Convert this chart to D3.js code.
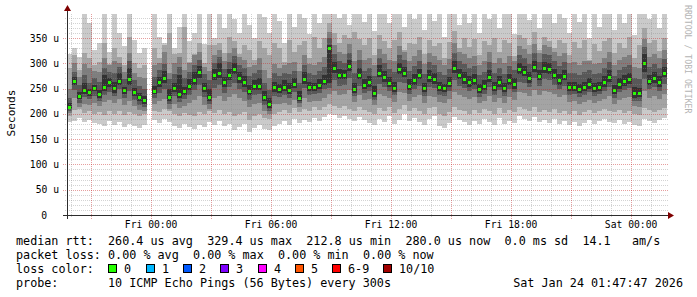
<!DOCTYPE html>
<html><head><meta charset="utf-8">
<script src="https://cdn.jsdelivr.net/npm/d3@7"></script>
<style>
html,body{margin:0;padding:0;background:#fff;}
svg{display:block;}
text{font-family:"DejaVu Sans Mono",monospace;}
</style>
</head><body>
<svg id="chart" width="697" height="297"></svg>
<script>
// ---- time axis ----
const startTime = Date.UTC(2026, 0, 22, 19, 47, 47);
const endTime = Date.UTC(2026, 0, 24, 1, 47, 47);
const stepMinutes = 15;

// ---- median rtt (microseconds) per 15-min step; null = no data ----
const median = [213,265,235,246,242,250,238,252,262,250,265,246,268,243,232,226,null,
245,262,270,232,250,238,244,255,266,282,250,232,276,
280,262,276,288,270,262,245,255,255,232,
218,252,248,252,246,258,231,268,252,252,
256,265,329,290,276,276,294,248,276,256,
262,241,280,272,260,250,288,280,254,266,
276,250,272,267,252,250,260,290,276,268,
262,266,248,254,272,252,262,250,266,258,
288,282,270,292,274,290,288,276,266,274,
252,252,248,252,258,250,252,262,272,246,
258,264,268,240,241,300,265,270,262,280];

// ---- sorted ping values (smoke), ping1 = fastest ... ping10 = slowest ----
const ping1 = [184,186,192,184,188,182,180,176,186,178,184,174,180,176,172,178,null,
188,182,190,184,176,172,180,174,170,178,174,184,178,
186,176,180,168,174,180,164,172,178,170,
168,176,180,186,178,190,182,188,184,192,
186,194,200,198,192,196,190,186,194,188,
182,178,190,184,196,180,188,200,186,192,
184,178,190,196,176,172,182,194,188,184,
178,186,180,190,184,178,192,180,186,182,
196,190,186,194,184,188,182,190,180,186,
178,184,176,182,188,180,186,190,184,182,
188,180,184,178,176,190,186,182,188,192];
const ping2 = [196,208,210,202,206,200,204,198,206,200,206,198,204,200,196,200,null,
206,204,210,206,200,196,202,198,196,204,200,206,202,
208,200,204,196,200,204,188,196,200,192,
190,200,204,208,202,212,204,210,206,214,
208,214,220,216,212,216,210,206,214,208,
204,200,212,206,214,202,210,218,206,212,
206,200,212,214,200,196,204,214,208,206,
200,208,202,210,206,200,212,202,208,204,
214,210,206,214,204,208,204,210,202,206,
200,206,198,204,208,202,206,210,206,204,
208,202,206,200,198,212,208,204,208,212];
const ping3 = [202,232,214,220,218,222,216,224,228,222,230,218,226,216,208,206,null,
220,226,230,210,220,212,216,222,228,236,218,210,232,
236,226,234,240,232,226,214,220,222,206,
200,220,220,222,218,228,214,232,224,226,
226,232,240,246,238,240,248,224,238,228,
230,218,240,236,232,224,244,242,226,234,
238,222,236,234,224,222,230,244,238,234,
230,234,222,226,236,224,232,222,234,228,
244,242,236,248,238,246,244,240,234,238,
224,226,220,224,228,222,226,230,236,220,
228,232,234,216,214,246,232,236,230,240];
const ping4 = [206,248,222,234,230,236,226,238,244,236,250,232,246,228,218,214,null,
232,242,250,220,236,224,230,238,248,258,234,220,252,
258,242,254,262,250,244,228,238,240,218,
206,236,234,238,232,244,222,252,238,240,
242,250,252,266,256,258,270,236,256,242,
246,228,260,254,246,238,264,262,240,250,
256,236,254,252,238,236,246,266,256,252,
246,250,234,240,254,238,248,236,250,244,
264,262,254,270,256,268,266,258,250,256,
238,240,234,238,244,236,240,246,254,232,
244,248,252,226,226,268,250,254,246,260];
const ping5 = [210,258,230,240,236,246,232,246,254,242,258,240,258,236,226,220,null,
240,254,262,226,244,232,238,248,258,270,244,226,266,
270,254,266,278,262,254,238,248,248,226,
212,244,242,246,240,252,226,260,246,246,
250,258,262,280,268,268,284,242,268,250,
254,234,272,264,254,244,278,272,248,258,
268,244,264,260,246,244,254,280,268,260,
254,258,242,248,264,246,254,244,258,250,
278,274,262,282,266,280,278,268,258,266,
246,246,242,246,250,244,246,254,264,240,
250,256,260,232,234,282,258,262,254,272];
const ping6 = [222,272,244,262,250,258,248,276,270,264,280,254,290,252,242,236,null,
256,272,284,250,262,276,254,268,282,294,262,250,288,
300,272,288,300,282,274,258,266,270,246,
232,264,260,266,262,270,246,282,264,262,
268,276,336,302,288,286,306,262,290,268,
274,256,296,284,272,264,300,292,268,278,
288,262,286,280,264,260,272,304,288,282,
274,278,260,266,286,264,274,262,278,270,
300,294,282,304,286,302,300,288,278,286,
264,264,260,264,270,262,264,274,286,258,
270,276,280,254,252,318,276,282,274,292];
const ping7 = [232,282,258,276,262,270,264,290,282,280,292,268,304,266,256,250,null,
272,286,298,268,278,292,270,282,296,306,278,266,300,
312,288,302,314,296,290,274,280,286,262,
248,280,274,280,278,284,262,296,280,276,
284,292,350,318,304,300,320,280,306,284,
290,274,310,300,288,282,316,306,284,294,
304,278,302,296,282,276,288,320,304,298,
290,294,276,282,302,280,290,278,294,286,
316,310,298,320,302,318,316,304,294,302,
280,280,276,282,286,278,280,290,302,274,
286,292,296,270,268,332,292,298,290,308];
const ping8 = [250,300,272,298,290,284,282,310,296,304,300,282,320,280,272,270,null,
296,300,322,280,300,312,286,300,316,322,292,284,316,
326,304,320,330,312,306,292,296,310,286,
270,298,290,296,300,302,284,316,298,296,
302,312,362,336,322,318,338,304,326,306,
310,296,328,318,306,304,334,322,304,314,
326,298,320,314,306,296,308,340,322,318,
310,314,296,304,322,300,310,300,314,304,
334,328,318,338,320,336,332,322,314,320,
300,302,296,304,304,298,300,310,322,296,
306,312,316,292,290,348,312,318,310,326];
const ping9 = [290,316,286,320,310,296,302,340,298,330,312,296,352,300,290,296,null,
330,310,336,360,318,320,372,302,318,340,300,336,336,
340,320,352,344,318,336,326,306,344,330,
316,340,330,302,346,322,336,344,310,352,
330,350,380,360,340,356,350,362,348,336,
350,316,356,344,330,346,362,326,340,338,
352,318,346,334,340,310,342,364,330,350,
332,348,316,344,336,350,322,346,340,314,
356,350,336,362,326,352,344,330,346,340,
316,342,330,346,306,338,324,344,350,320,
340,330,352,310,336,370,340,346,324,350];
const ping10 = [318,330,312,397,380,326,340,397,322,397,360,334,397,346,320,330,null,
397,352,340,397,330,372,397,344,360,397,338,397,350,
397,370,397,388,360,397,376,350,397,392,
360,397,384,340,397,372,397,390,358,397,
380,397,397,397,390,397,376,397,397,382,
397,364,397,397,380,397,397,372,397,388,
397,366,397,384,397,352,397,397,376,397,
380,397,360,397,388,397,370,397,397,358,
397,397,386,397,370,397,397,380,397,390,
360,397,382,397,350,397,372,397,397,366,
397,380,397,356,397,397,388,397,370,397];

// ---- axis ticks ----
const yTickValues = [0, 50, 100, 150, 200, 250, 300, 350];
const yTickLabels = ["0", "50 u", "100 u", "150 u", "200 u", "250 u", "300 u", "350 u"];

// ---- legend content ----
const rttStats = ["260.4 us avg", "329.4 us max", "212.8 us min", "280.0 us now", "0.0 ms sd", "14.1", "am/s"];
const lossStats = ["0.00 % avg", "0.00 % max", "0.00 % min", "0.00 % now"];
const lossLabels = ["0", "1", "2", "3", "4", "5", "6-9", "10/10"];
const lossColors = ["#26ff00", "#00b8ff", "#0059ff", "#7e00ff", "#ff00ff", "#ff5500", "#ff0000", "#a10000"];
const probeText = "10 ICMP Echo Pings (56 Bytes) every 300s";
const stampText = "Sat Jan 24 01:47:47 2026";

// ---- layout ----
const svg = d3.select("#chart");
const X0 = 67, X1 = 667, Y0 = 215, Y1 = 14;
const x = d3.scaleUtc().domain([new Date(startTime), new Date(endTime)]).range([X0, X1]);
const y = d3.scaleLinear().domain([0, 397.5]).range([Y0, Y1]);
const stepMs = stepMinutes * 60000;
const tAt = i => new Date(startTime + i * stepMs);
const clampV = v => Math.min(397.5, v);

// smoke layers
const pings = [ping1, ping2, ping3, ping4, ping5, ping6, ping7, ping8, ping9, ping10];
const smokeColors = ["#cacaca", "#a4a4a4", "#7e7e7e", "#585858", "#323232"];
const gData = svg.append("g").attr("shape-rendering", "crispEdges");
for (let k = 0; k < 5; k++) {
  const lo = pings[k], hi = pings[9 - k];
  const idx = d3.range(median.length).filter(i => lo[i] != null && hi[i] != null);
  gData.append("g").selectAll("rect").data(idx).join("rect")
    .attr("x", i => x(tAt(i)))
    .attr("width", i => x(tAt(i + 1)) - x(tAt(i)))
    .attr("y", i => y(clampV(Math.max(lo[i], hi[i]))))
    .attr("height", i => Math.max(0.5, y(Math.min(lo[i], hi[i])) - y(clampV(Math.max(lo[i], hi[i])))))
    .attr("fill", smokeColors[k]);
}
// median markers
const midx = d3.range(median.length).filter(i => median[i] != null);
gData.append("g").selectAll("rect").data(midx).join("rect")
  .attr("x", i => (x(tAt(i)) + x(tAt(i + 1))) / 2 - 1.5)
  .attr("width", 3)
  .attr("y", i => y(median[i]) - 1.5)
  .attr("height", 3)
  .attr("fill", lossColors[0]);

// grid (drawn over data, translucent)
const gGrid = svg.append("g").attr("shape-rendering", "crispEdges");
const minorCol = "rgba(140,140,140,0.38)", majorCol = "rgba(200,40,40,0.45)";
const hMinor = d3.range(10, 397, 10).filter(v => v % 50 !== 0);
gGrid.selectAll(".hmin").data(hMinor).join("line")
  .attr("x1", X0 - 2).attr("x2", X1 + 2)
  .attr("y1", d => Math.round(y(d)) + 0.5).attr("y2", d => Math.round(y(d)) + 0.5)
  .attr("stroke", minorCol).attr("stroke-dasharray", "1,1");
gGrid.selectAll(".hmaj").data(yTickValues.slice(1)).join("line")
  .attr("x1", X0 - 4).attr("x2", X1 + 2)
  .attr("y1", d => Math.round(y(d)) + 0.5).attr("y2", d => Math.round(y(d)) + 0.5)
  .attr("stroke", majorCol).attr("stroke-dasharray", "1,1");
const hours = d3.utcHour.range(new Date(startTime), new Date(endTime));
const vMinor = hours.filter(d => d.getUTCHours() % 3 !== 0);
const vMajor = hours.filter(d => d.getUTCHours() % 3 === 0);
gGrid.selectAll(".vmin").data(vMinor).join("line")
  .attr("x1", d => Math.round(x(d)) + 0.5).attr("x2", d => Math.round(x(d)) + 0.5)
  .attr("y1", Y1).attr("y2", Y0 + 2)
  .attr("stroke", minorCol).attr("stroke-dasharray", "1,1");
gGrid.selectAll(".vmaj").data(vMajor).join("line")
  .attr("x1", d => Math.round(x(d)) + 0.5).attr("x2", d => Math.round(x(d)) + 0.5)
  .attr("y1", Y1).attr("y2", Y0 + 4)
  .attr("stroke", majorCol).attr("stroke-dasharray", "1,1");

// axes lines + arrows
const gAx = svg.append("g").attr("shape-rendering", "crispEdges");
gAx.append("line").attr("x1", X0 - 4).attr("x2", X1 + 3).attr("y1", Y0 + 0.5).attr("y2", Y0 + 0.5).attr("stroke", "#2c2c2c");
gAx.append("line").attr("x1", X0 + 0.5).attr("x2", X0 + 0.5).attr("y1", Y0 + 4).attr("y2", Y1 - 3).attr("stroke", "#2c2c2c");
svg.append("path").attr("d", `M${X1 + 1},${Y0 - 3}L${X1 + 7},${Y0 + 0.5}L${X1 + 1},${Y0 + 4}Z`).attr("fill", "#7f0000");
svg.append("path").attr("d", `M${X0 - 3},${Y1 - 3}L${X0 + 0.5},${Y1 - 9}L${X0 + 4},${Y1 - 3}Z`).attr("fill", "#7f0000");

// axis labels
const fmt = d3.utcFormat("%a %H:%M");
const labelTimes = hours.filter(d => d.getUTCHours() % 6 === 0);
svg.append("g").selectAll("text").data(labelTimes).join("text")
  .attr("x", d => x(d)).attr("y", 228)
  .attr("text-anchor", "middle").attr("font-size", "9.7px").attr("fill", "#000")
  .text(d => fmt(d));
svg.append("g").selectAll("text").data(yTickValues).join("text")
  .attr("x", (d, i) => i === 0 ? 47 : 59)
  .attr("y", d => y(d) + 3.5)
  .attr("text-anchor", "end").attr("font-size", "9.7px").attr("fill", "#000")
  .text((d, i) => yTickLabels[i]);

// vertical title
svg.append("text").attr("transform", "translate(15,113) rotate(-90)")
  .attr("text-anchor", "middle").attr("font-size", "11.1px").text("Seconds");
// watermark
svg.append("text").attr("transform", "translate(685,5) rotate(90)")
  .attr("font-size", "8.2px").attr("fill", "#b4b4b4").text("RRDTOOL / TOBI OETIKER");

// legend (monospace grid, 7.08 px per character)
const CW = 7.08, LX = 16;
const col = c => LX + c * CW;
const L = svg.append("g").attr("font-size", "11.76px").attr("fill", "#000");
const row = (yy, items) => items.forEach(([xx, t]) => L.append("text").attr("x", xx).attr("y", yy).attr("xml:space", "preserve").text(t));
row(245, [[col(0), "median rtt:"], [col(13), rttStats[0]], [col(27), rttStats[1]], [col(41), rttStats[2]], [col(55), rttStats[3]], [col(69), rttStats[4]], [col(80), rttStats[5]], [col(87), rttStats[6]]]);
row(259, [[col(0), "packet loss:"], [col(13), lossStats[0]], [col(25), lossStats[1]], [col(37), lossStats[2]], [col(49), lossStats[3]]]);
row(273, [[col(0), "loss color:"]]);
const boxX = [108, 146, 183, 220, 258, 295, 332, 383];
lossLabels.forEach((lab, i) => {
  L.append("rect").attr("x", boxX[i] + 0.5).attr("y", 264.5).attr("width", 8).attr("height", 8)
    .attr("fill", lossColors[i]).attr("stroke", "#000").attr("stroke-width", 1);
  L.append("text").attr("x", boxX[i] + 16).attr("y", 273).text(lab);
});
row(287, [[col(0), "probe:"], [col(13), probeText]]);
L.append("text").attr("x", 683).attr("y", 287).attr("text-anchor", "end").text(stampText);
</script>
</body></html>
